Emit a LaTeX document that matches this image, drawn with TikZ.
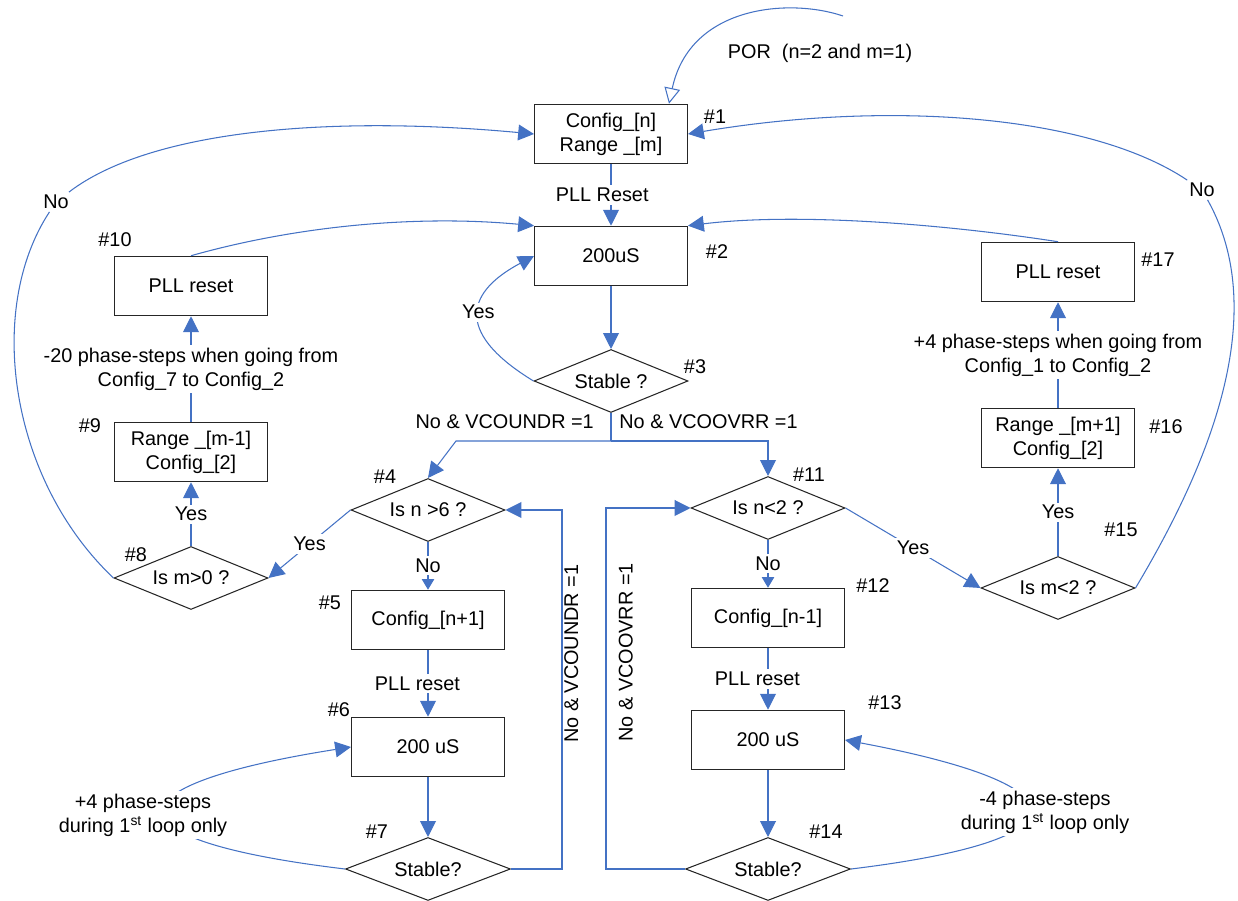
\documentclass[tikz,border=0pt]{standalone}
\usepackage{fontspec}
\setmainfont{Liberation Sans}
\usetikzlibrary{arrows.meta,shapes.geometric}
\definecolor{Link}{HTML}{4472C4}
\definecolor{Edge}{HTML}{262626}

\begin{document}
\begin{tikzpicture}[
  x=0.02cm,y=-0.02cm,
  >={Triangle[length=9pt,width=9pt]},
  font=\fontsize{11.3}{13.6}\selectfont,
  box/.style={draw=Edge,line width=0.6pt,minimum width=3.06cm,minimum height=1.19cm,align=center,inner sep=1pt},
  decision/.style={diamond,draw=Edge,line width=0.6pt,shape aspect=2.4,inner sep=0pt,minimum width=3.08cm,minimum height=1.26cm,align=center},
  wide/.style={minimum width=3.3cm},
  link/.style={Link,text=black,line width=0.6pt},
  numtag/.style={inner sep=1pt},
  lbl/.style={fill=white,text=black,inner sep=1.5pt,align=center},
  smalltip/.style={-{Triangle[length=6pt,width=7pt]}}
]
  \useasboundingbox (0,0) rectangle (1238,901);

  % main column
  \node[box] (n1) at (611,134) {Config\_[n]\\Range \_[m]};
  \node[box] (n2) at (611,256) {200uS};
  \node[decision] (n3) at (611,381) {Stable ?};
  % left branch
  \node[decision] (n4) at (428,510) {Is n >6 ?};
  \node[box] (n5) at (428,620) {Config\_[n+1]};
  \node[box] (n6) at (428,747) {200 uS};
  \node[decision,wide] (n7) at (428,869) {Stable?};
  \node[decision] (n8) at (191,578) {Is m>0 ?};
  \node[box] (n9) at (191,452) {Range \_[m-1]\\Config\_[2]};
  \node[box] (n10) at (191,286) {PLL reset};
  % right branch
  \node[decision] (n11) at (768,508) {Is n<2 ?};
  \node[box] (n12) at (768,618) {Config\_[n-1]};
  \node[box] (n13) at (768,740) {200 uS};
  \node[decision,wide] (n14) at (768,869) {Stable?};
  \node[decision] (n15) at (1058,588) {Is m<2 ?};
  \node[box] (n16) at (1058,438) {Range \_[m+1]\\Config\_[2]};
  \node[box] (n17) at (1058,272) {PLL reset};

  % step numbers
  \node[numtag] (t1) at (715,117) {\#1};
  \node[numtag] (t2) at (717,252) {\#2};
  \node[numtag] (t3) at (695,367) {\#3};
  \node[numtag] (t4) at (385,477) {\#4};
  \node[numtag] (t5) at (330,603) {\#5};
  \node[numtag] (t6) at (339,710) {\#6};
  \node[numtag] (t7) at (377,832) {\#7};
  \node[numtag] (t8) at (136,555) {\#8};
  \node[numtag] (t9) at (90,426) {\#9};
  \node[numtag] (t10) at (115,240) {\#10};
  \node[numtag] (t11) at (809,475) {\#11};
  \node[numtag] (t12) at (873,586) {\#12};
  \node[numtag] (t13) at (885,703) {\#13};
  \node[numtag] (t14) at (826,832) {\#14};
  \node[numtag] (t15) at (1121,530) {\#15};
  \node[numtag] (t16) at (1166,427) {\#16};
  \node[numtag] (t17) at (1158,260) {\#17};

  % power on reset
  \coordinate (por) at (843,16);
  \node (porlbl) at (820,53) {POR\ \ (n=2 and m=1)};
  \draw[link,-{Triangle[open,length=9pt,width=9pt]}] (por) .. controls (790,-2) and (690,5) .. ([xshift=1.16cm]n1.north);

  % main flow
  \draw[link,->] (n1) -- node[lbl,xshift=-5pt]{PLL Reset} (n2);
  \draw[link,->] (n2) -- (n3);
  \draw[link,->] (n3.west) .. controls (450,330) and (470,290) .. node[lbl]{Yes} (n2.west);
  \coordinate (split) at (611,441);
  \draw[link,line width=0.9pt] (n3.south) -- node[anchor=east,xshift=-6pt,yshift=3pt]{No \& VCOUNDR =1}
    node[anchor=west,xshift=1pt,yshift=3pt]{No \& VCOOVRR =1} (split);
  \draw[link,->] (split) -- ++(-155,0) -- (n4.north);
  \draw[link,->] (split) -| (n11.north);

  % left branch
  \draw[link,->] (n4.west) -- node[lbl]{Yes} (n8.east);
  \draw[link,smalltip] (n4) -- node[lbl]{No} (n5);
  \draw[link,->] (n5) -- node[lbl,xshift=-6pt]{PLL reset} (n6);
  \draw[link,->] (n6) -- (n7);
  \draw[link,->] (n7.east) -- ++(51,0) |- node[pos=0.3,rotate=90,anchor=north,inner sep=1pt]{No \& VCOUNDR =1} (n4.east);
  \draw[link,->] (n7.west) .. controls (103,840) and (103,786) .. (n6.west);
  \node[lbl] (s7) at (143,815) {+4 phase-steps\\during 1\textsuperscript{st} loop only};
  \draw[link,->] (n8) -- node[lbl]{Yes} (n9);
  \draw[link,->] (n9) -- node[lbl]{-20 phase-steps when going from\\Config\_7 to Config\_2} (n10);
  \draw[link,->] (n10.north) .. controls (300,225) and (420,215) .. (n2.north west);
  \node[lbl] (noL) at (56,202) {No};
  \draw[link] (n8.west) .. controls (10,480) and (-15,310) .. (noL);
  \draw[link,->] (noL) .. controls (150,130) and (330,115) .. (n1.west);

  % right branch
  \draw[link,->] (n11.east) -- node[lbl]{Yes} (n15.west);
  \draw[link,smalltip] (n11) -- node[lbl]{No} (n12);
  \draw[link,->] (n12) -- node[lbl,xshift=-6pt]{PLL reset} (n13);
  \draw[link,->] (n13) -- (n14);
  \draw[link,->] (n14.west) -- ++(-79,0) |- node[pos=0.3,rotate=90,anchor=north,inner sep=1pt,yshift=-6pt]{No \& VCOOVRR =1} (n11.west);
  \draw[link,->] (n14.east) .. controls (1090,840) and (1090,786) .. (n13.east);
  \node[lbl] (s14) at (1045,812) {-4 phase-steps\\during 1\textsuperscript{st} loop only};
  \draw[link,->] (n15) -- node[lbl]{Yes} (n16);
  \draw[link,->] (n16) -- node[lbl]{+4 phase-steps when going from\\Config\_1 to Config\_2} (n17);
  \draw[link,->] (n17.north) .. controls (950,225) and (800,212) .. (n2.north east);
  \node[lbl] (noR) at (1202,190) {No};
  \draw[link] (n15.east) .. controls (1200,480) and (1275,320) .. (noR);
  \draw[link,->] (noR) .. controls (1090,115) and (890,100) .. (n1.east);
\end{tikzpicture}
\end{document}
